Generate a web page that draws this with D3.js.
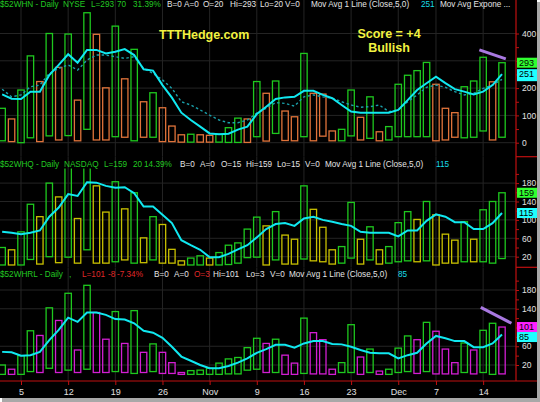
<!DOCTYPE html>
<html>
<head>
<meta charset="utf-8">
<script src="https://cdn.jsdelivr.net/npm/d3@7"></script>
<style>
  body { margin: 0; background: #fff; }
  text { font-family: Arial, "Liberation Sans", sans-serif; }
</style>
</head>
<body>
<script>
// trading days, Oct 1 - Dec 16 2009
const dates = [
  "2009-10-01","2009-10-02","2009-10-05","2009-10-06","2009-10-07","2009-10-08","2009-10-09",
  "2009-10-12","2009-10-13","2009-10-14","2009-10-15","2009-10-16",
  "2009-10-19","2009-10-20","2009-10-21","2009-10-22","2009-10-23",
  "2009-10-26","2009-10-27","2009-10-28","2009-10-29","2009-10-30",
  "2009-11-02","2009-11-03","2009-11-04","2009-11-05","2009-11-06",
  "2009-11-09","2009-11-10","2009-11-11","2009-11-12","2009-11-13",
  "2009-11-16","2009-11-17","2009-11-18","2009-11-19","2009-11-20",
  "2009-11-23","2009-11-24","2009-11-25","2009-11-27","2009-11-30",
  "2009-12-01","2009-12-02","2009-12-03","2009-12-04",
  "2009-12-07","2009-12-08","2009-12-09","2009-12-10","2009-12-11",
  "2009-12-14","2009-12-15","2009-12-16"
];
const tickDates = ["2009-10-05","2009-10-12","2009-10-19","2009-10-26","2009-11-02","2009-11-09",
  "2009-11-16","2009-11-23","2009-12-01","2009-12-07","2009-12-14"];
const tickLabels = ["5","12","19","26","Nov","9","16","23","Dec","7","14"];

// $52WHN - NYSE new highs
const nyseOpen = [7,4,0,18,4,25,10,26,7,49,10,10,22,20,7,20,20,4,4,2,2,2,2,2,1,1,1,22,6,34,
  8,7,22,7,24,7,7,25,10,16,7,10,22,22,22,22,7,10,20,18,20,43,10,20];
const nyseClose = [126,87,193,318,224,400,276,398,156,476,397,201,427,234,342,150,183,128,61,29,
  31,29,27,31,55,90,87,224,181,226,116,95,327,181,178,43,49,193,93,168,40,59,214,247,264,294,
  214,126,110,205,226,313,223,293];
const nyseMA = [177,161,160,187,187,248,285,324,293,340,340,327,333,343,321,269,264,211,165,110,
  83,59,34,31,33,48,59,105,132,160,166,168,190,190,175,163,138,114,110,110,110,110,120,156,193,
  218,242,218,196,187,177,187,211,251];
const nyseEMA = [196,168,175,205,211,254,272,285,266,303,321,321,315,309,315,272,254,230,199,150,
  138,120,101,83,73,73,83,108,126,147,144,134,168,175,168,163,150,138,130,132,138,114,120,150,
  175,203,211,203,187,175,181,199,211,232];
const nyseTrend = [[50.6, 340], [53.4, 307]];

// $52WHQ - NASDAQ new highs
const nasdaqOpen = [2,2,2,14,4,20,7,19,6,35,6,6,9,13,6,7,13,6,6,2,2,2,2,2,3,6,18,19,2,13,
  4,4,15,11,9,4,6,17,4,13,4,6,9,11,9,11,2,6,6,9,9,9,6,16];
const nasdaqClose = [40,35,74,134,107,180,150,225,103,240,174,117,183,124,159,61,107,90,36,11,
  17,22,17,29,45,50,80,106,87,118,67,58,174,123,84,35,42,138,58,85,35,42,94,118,101,140,111,
  69,56,96,58,122,140,159];
const nasdaqMA = [74,72,69,72,77,107,127,156,152,182,181,174,170,171,158,129,129,111,93,56,45,
  35,19,19,26,36,45,62,80,91,93,87,103,107,100,96,91,87,74,72,72,72,64,77,77,98,112,107,95,95,
  80,80,93,115];

// $52WHRL - Russell new highs
const rlOpen = [0,0,0,6,4,13,4,9,4,11,4,4,6,4,2,4,6,2,2,0,0,0,0,0,1,1,9,11,4,4,
  0,0,2,1,1,0,4,4,0,4,0,0,4,6,2,6,1,1,1,4,1,4,0,1];
const rlClose = [20,11,40,93,83,142,115,173,52,190,132,75,134,66,136,47,65,47,25,4,8,9,13,24,
  33,36,57,77,66,75,41,24,120,89,74,11,25,106,37,54,7,11,56,82,74,111,92,54,25,67,52,94,109,101];
const rlMA = [48,47,40,41,48,73,95,121,112,132,132,127,118,117,109,93,89,78,59,38,29,20,13,13,
  18,25,34,46,54,63,63,57,66,71,71,65,64,59,52,46,45,45,34,41,46,66,82,77,71,71,58,58,66,85];
const rlTrend = [[50.75, 143], [54.0, 109]];

// bar colour follows the change from the previous close
const upFlag = (closes, i) => i === 0 ? true : closes[i] > closes[i - 1];

const G = "#22c822", WH = "#e4e4e4", RD = "#e02828", CY = "#18dce8";
const axisRed = "#c01010";
const FONT = "Arial, 'Liberation Sans', sans-serif";

const svg = d3.select("body").append("svg")
  .attr("width", 540)
  .attr("height", 402);

svg.append("rect").attr("x", 2).attr("y", 2).attr("width", 538).attr("height", 400).attr("fill", "#a8a8a8");
svg.append("rect").attr("x", 0).attr("y", 0).attr("width", 537).attr("height", 398).attr("fill", "#000");

let x = d3.scaleLinear()
  .domain([0, dates.length - 1])
  .range([2.14, 502]);

let panes = [
  { id: "nyse", open: nyseOpen, close: nyseClose, ma: nyseMA, ema: nyseEMA, trend: nyseTrend,
    down: "#e0733a", top: 0, bottom: 156.7, clipTop: 0,
    y: d3.scaleLinear().domain([0, 400]).range([142.7, 33.5]),
    labels: [0, 100, 200, 400], minor: [50, 150, 250, 300, 350],
    tags: [[293, "#30ff30", 10], [251, "#20ffff", 12]],
    titleY: 6.5,
    title: [["$52WHN - Daily", 0, G], ["NYSE", 63, G], ["L=293", 91, G], ["70", 117, G], ["31.39%", 133, G],
      ["B=0", 167, WH], ["A=0", 184, WH], ["O=20", 203, WH], ["Hi=293", 230, WH], ["Lo=20", 260, WH],
      ["V=0", 285, WH], ["Mov Avg 1 Line (Close,5,0)", 311, WH], ["251", 421, CY], ["Mov Avg Expone ...", 440, WH]] },
  { id: "nasdaq", open: nasdaqOpen, close: nasdaqClose, ma: nasdaqMA,
    down: "#c8c000", top: 157, bottom: 267.3, clipTop: 168.5,
    y: d3.scaleLinear().domain([20, 180]).range([256.7, 183.1]),
    labels: [20, 60, 100, 140, 180], minor: [40, 80, 120, 160, 200],
    tags: [[159, "#30ff30", 10], [115, "#20ffff", 10]],
    titleY: 167.3,
    title: [["$52WHQ - Daily", 0, G], ["NASDAQ", 64, G], ["L=159", 104, G], ["20", 133, G], ["14.39%", 144, G],
      ["B=0", 180, WH], ["A=0", 200, WH], ["O=15", 221, WH], ["Hi=159", 246, WH], ["Lo=15", 277, WH],
      ["V=0", 305, WH], ["Mov Avg 1 Line (Close,5,0)", 325, WH], ["115", 436, CY]] },
  { id: "rl", open: rlOpen, close: rlClose, ma: rlMA, trend: rlTrend,
    down: "#d21ed2", top: 267.6, bottom: 381, clipTop: 279,
    y: d3.scaleLinear().domain([20, 180]).range([365, 290]),
    labels: [20, 60, 140, 180], minor: [40, 80, 100, 120, 160, 200],
    tags: [[101, "#ff20ff", 10], [85, "#20ffff", 10]],
    titleY: 277.3,
    title: [["$52WHRL - Daily", 0, G], [",", 69, G], ["L=101", 82, RD], ["-8", 108, RD], ["-7.34%", 117, RD],
      ["B=0", 154, WH], ["A=0", 174, WH], ["O=3", 194, RD], ["Hi=101", 213, WH], ["Lo=3", 246, WH],
      ["V=0", 270, WH], ["Mov Avg 1 Line (Close,5,0)", 289, WH], ["85", 398, CY]] }
];

let tickIdx = tickDates.map(d => dates.indexOf(d));

panes.forEach(p => {
  let g = svg.append("g");

  // grid
  g.selectAll(".hgrid").data(p.labels.concat(p.minor.filter(v => v % 100 === 0 && p.id === "nyse"))).enter().append("line")
    .attr("x1", 0).attr("x2", 516)
    .attr("y1", d => p.y(d)).attr("y2", d => p.y(d))
    .attr("stroke", "#242424");
  g.selectAll(".vgrid").data(tickIdx).enter().append("line")
    .attr("x1", d => x(d)).attr("x2", d => x(d))
    .attr("y1", p.top).attr("y2", p.bottom)
    .attr("stroke", "#242424");

  svg.append("clipPath").attr("id", "clip-" + p.id)
    .append("rect").attr("x", 0).attr("y", p.clipTop)
    .attr("width", 516).attr("height", p.bottom - p.clipTop);

  let plot = svg.append("g").attr("clip-path", "url(#clip-" + p.id + ")");

  plot.selectAll(".bar").data(p.close).enter().append("rect")
    .attr("x", (d, i) => x(i) - 3.2)
    .attr("width", 6.4)
    .attr("y", (d, i) => p.y(Math.max(d, p.open[i])))
    .attr("height", (d, i) => Math.abs(p.y(p.open[i]) - p.y(d)))
    .attr("fill", "none")
    .attr("stroke", (d, i) => upFlag(p.close, i) ? "#1ec81e" : p.down)
    .attr("stroke-width", 1.3);

  if (p.ema) {
    plot.append("path").datum(p.ema)
      .attr("fill", "none")
      .attr("stroke", "#1aa0aa")
      .attr("stroke-width", 1.4)
      .attr("stroke-dasharray", "2.5,2.5")
      .attr("d", d3.line().x((d, i) => x(i)).y(d => p.y(d)));
  }

  plot.append("path").datum(p.ma)
    .attr("fill", "none")
    .attr("stroke", "#10e8f0")
    .attr("stroke-width", 2)
    .attr("d", d3.line().x((d, i) => x(i)).y(d => p.y(d)));

  if (p.trend) {
    svg.append("path").datum(p.trend)
      .attr("fill", "none")
      .attr("stroke", "#a878e0")
      .attr("stroke-width", 3)
      .attr("d", d3.line().x(d => x(d[0])).y(d => p.y(d[1])));
  }

  // right axis
  let ax = svg.append("g")
    .attr("transform", "translate(516,0)")
    .call(d3.axisRight(p.y).tickValues(p.labels).tickSize(3).tickPadding(3));
  ax.select(".domain").remove();
  ax.selectAll("line").attr("stroke", axisRed);
  ax.selectAll("text").attr("fill", "#e0e0e0").attr("font-size", 8.5).attr("font-family", FONT);

  let axm = svg.append("g")
    .attr("transform", "translate(516,0)")
    .call(d3.axisRight(p.y).tickValues(p.minor).tickSize(3).tickFormat(""));
  axm.select(".domain").remove();
  axm.selectAll("line").attr("stroke", axisRed);

  // last-value tags
  let prevBottom = -Infinity;
  p.tags.forEach(([v, col, h]) => {
    let top = Math.max(p.y(v) - 5, prevBottom);
    prevBottom = top + h;
    svg.append("rect")
      .attr("x", 517).attr("y", top)
      .attr("width", 20).attr("height", h)
      .attr("fill", col);
    svg.append("text")
      .attr("x", 519).attr("y", top + 8.3)
      .attr("font-size", 9)
      .attr("fill", "#000")
      .text(v);
  });

  // title
  g.selectAll(".title").data(p.title).enter().append("text")
    .attr("x", d => d[1])
    .attr("y", p.titleY)
    .attr("font-size", 8.2)
    .attr("fill", d => d[2])
    .text(d => d[0]);
});

// frame lines
svg.append("line").attr("x1", 516).attr("x2", 516).attr("y1", 0).attr("y2", 381)
  .attr("stroke", axisRed).attr("stroke-width", 1.2);
[156.7, 267.3].forEach(v => {
  svg.append("line").attr("x1", 516).attr("x2", 537).attr("y1", v).attr("y2", v)
    .attr("stroke", axisRed).attr("stroke-width", 1.2);
});

let xa = svg.append("g")
  .attr("transform", "translate(0,381)")
  .call(d3.axisBottom(x).tickValues(tickIdx).tickSize(4).tickPadding(4)
    .tickFormat((d, i) => tickLabels[i]));
xa.select(".domain").remove();
xa.selectAll("line").attr("stroke", axisRed);
xa.selectAll("text").attr("fill", "#e0e0e0").attr("font-size", 9).attr("font-family", FONT);
svg.append("line").attr("x1", 0).attr("x2", 537).attr("y1", 381).attr("y2", 381)
  .attr("stroke", axisRed).attr("stroke-width", 1.2);

// annotations
svg.append("text").attr("x", 159).attr("y", 39).attr("font-size", 12.5).attr("font-weight", "bold")
  .attr("fill", "#f2f240").text("TTTHedge.com");
svg.append("text").attr("x", 389).attr("y", 37.5).attr("font-size", 12.5).attr("font-weight", "bold")
  .attr("text-anchor", "middle").attr("fill", "#f2f240").text("Score = +4");
svg.append("text").attr("x", 389).attr("y", 51.5).attr("font-size", 12.5).attr("font-weight", "bold")
  .attr("text-anchor", "middle").attr("fill", "#f2f240").text("Bullish");
</script>
</body>
</html>
